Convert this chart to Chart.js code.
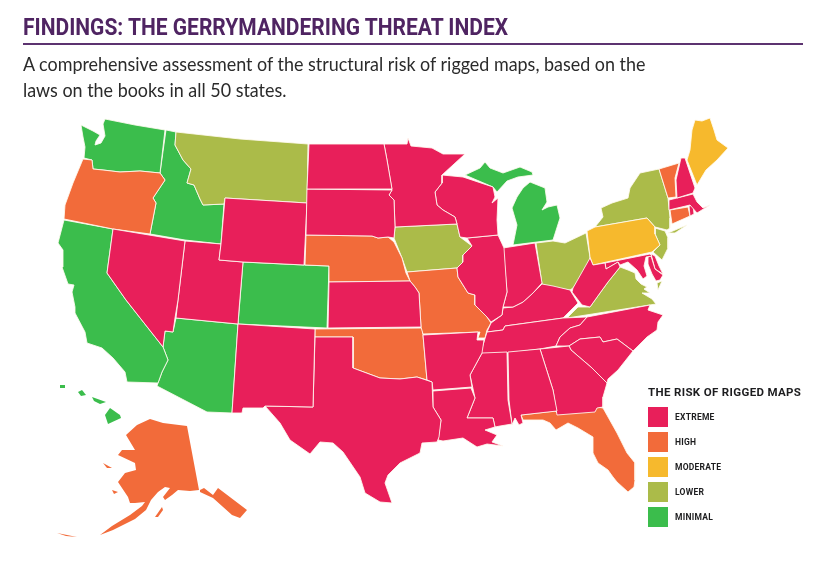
<!DOCTYPE html>
<html>
<head>
<meta charset="utf-8">
<title>The Gerrymandering Threat Index</title>
<script src="https://cdn.jsdelivr.net/npm/chart.js@4"></script>
<style>
  html, body { margin: 0; background: #fff; }
  #wrap { position: relative; width: 831px; height: 583px; overflow: hidden; }
  #map { position: absolute; left: 0; top: 0; }
  h1 { position: absolute; left: 23px; top: 13px; margin: 0; font: bold 24px "Liberation Sans Narrow", "Roboto", sans-serif; color: #4f2462; white-space: nowrap; transform-origin: left top; transform: scaleX(.875); }
  #rule { position: absolute; left: 23px; top: 43px; width: 780px; height: 2px; background: #5c3370; }
  #sub { position: absolute; left: 23px; top: 51px; font: 19px/26px "Lato", sans-serif; color: #2b2b2b; white-space: nowrap; transform-origin: left top; transform: scaleX(.943); }
  #legend-title { position: absolute; left: 648px; top: 385px; font: bold 11.5px "Roboto", sans-serif; letter-spacing: .35px; color: #1d1d1f; white-space: nowrap; }
  .key { position: absolute; left: 648px; width: 20px; height: 20px; }
  .key-label { position: absolute; left: 675px; font: bold 8.5px/20px "Roboto", sans-serif; letter-spacing: .25px; color: #1d1d1f; }
</style>
</head>
<body>
<div id="wrap">
  <canvas id="map" width="831" height="583"></canvas>
  <h1>FINDINGS: THE GERRYMANDERING THREAT INDEX</h1>
  <div id="rule"></div>
  <div id="sub">A comprehensive assessment of the structural risk of rigged maps, based on the<br>laws on the books in all 50 states.</div>
  <div id="legend-title">THE RISK OF RIGGED MAPS</div>
</div>
<script>
'use strict';

/* ---- Risk categories ---- */
const riskLabels = ['EXTREME', 'HIGH', 'MODERATE', 'LOWER', 'MINIMAL'];
const riskColors = ['#e81f5a', '#f26b3a', '#f6b92d', '#abbb49', '#3bbd4c'];
const extreme = ['ND', 'SD', 'WY', 'NV', 'UT', 'NM', 'TX', 'KS', 'MN', 'WI', 'IL', 'IN', 'AR', 'LA', 'MS', 'AL', 'GA', 'SC', 'NC', 'TN', 'KY', 'WV', 'MD', 'DE', 'NH', 'MA', 'RI'];
const high = ['OR', 'NE', 'MO', 'OK', 'FL', 'VT', 'CT', 'AK'];
const moderate = ['PA', 'ME'];
const lower = ['MT', 'IA', 'OH', 'NY', 'VA', 'NJ'];
const minimal = ['WA', 'ID', 'CA', 'AZ', 'CO', 'MI', 'HI'];

/* ---- State outlines ---- */
const WA = [[[105,119],[135,125],[165,130],[160,173],[140,171],[120,172],[103,170],[93,169],[92,160],[84,158],[85,147],[83,137],[81,125],[93,131],[100,135],[96,141],[95,145],[101,143],[105,136],[103,124]]];
const OR = [[[83,159],[92,160],[93,169],[103,170],[120,172],[140,171],[160,173],[165,180],[153,198],[156,203],[150,234],[113,229],[64,219],[65,205],[73,183]]];
const ID = [[[166,130],[176,132],[175,145],[183,160],[191,169],[187,183],[194,185],[200,199],[203,205],[224,204],[221,244],[185,240],[150,234],[156,203],[153,198],[165,180],[160,173]]];
const MT = [[[176,132],[240,139],[308,144],[307,203],[225,198],[224,204],[203,205],[200,199],[194,185],[187,183],[191,169],[183,160],[175,145]]];
const WY = [[[225,198],[307,203],[304,265],[243,262],[219,260],[221,244]]];
const NV = [[[113,229],[185,241],[178,300],[175,318],[173,332],[165,331],[163,347],[126,300],[107,273]]];
const CA = [[[64,220],[113,229],[107,273],[126,300],[163,347],[168,360],[162,372],[158,383],[127,382],[125,372],[113,358],[102,348],[87,343],[85,332],[75,313],[75,307],[72,292],[74,285],[68,284],[62,267],[63,250],[58,243]]];
const UT = [[[185,241],[221,244],[219,260],[243,262],[239,310],[238,324],[176,318],[178,300]]];
const AZ = [[[176,318],[238,324],[232,413],[207,412],[157,386],[158,383],[162,372],[168,360],[163,347],[165,331],[173,332]]];
const CO = [[[243,262],[304,265],[329,266],[327,328],[238,324]]];
const NM = [[[238,324],[315,329],[313,407],[265,406],[263,408],[243,408],[242,413],[232,413]]];
const TX = [[[315,337],[353,337],[353,368],[380,378],[400,379],[417,377],[432,382],[433,407],[441,420],[439,437],[437,442],[422,443],[420,453],[400,463],[388,475],[385,483],[392,503],[380,502],[365,493],[360,477],[343,452],[333,443],[320,442],[310,454],[290,440],[280,423],[265,406],[313,407]]];
const OK = [[[315,329],[422,328],[423,335],[427,380],[417,377],[400,379],[380,378],[353,368],[353,337],[315,337]]];
const KS = [[[329,282],[410,281],[415,287],[419,293],[421,327],[328,328]]];
const NE = [[[306,235],[372,236],[378,238],[388,237],[394,242],[402,258],[406,273],[410,281],[329,282],[329,266],[305,265]]];
const SD = [[[307,189],[392,190],[389,195],[394,200],[395,227],[394,238],[388,237],[378,238],[372,236],[306,235]]];
const ND = [[[309,144],[384,144],[387,160],[392,189],[307,189]]];
const MN = [[[384,144],[407,144],[408,138],[411,146],[432,148],[443,154],[465,154],[442,175],[442,183],[435,192],[437,205],[443,210],[455,217],[457,224],[395,227],[394,200],[389,195],[392,190],[387,160]]];
const IA = [[[395,227],[457,224],[460,237],[472,246],[463,255],[463,262],[457,268],[407,272],[402,258],[394,238]]];
const MO = [[[407,272],[457,268],[458,277],[468,293],[475,295],[475,305],[487,317],[491,323],[487,330],[485,338],[478,338],[480,332],[423,334],[421,327],[419,293],[415,287],[410,281]]];
const AR = [[[423,335],[478,332],[477,340],[484,340],[482,353],[470,375],[472,387],[433,390],[432,382],[427,380]]];
const LA = [[[433,391],[471,388],[475,398],[467,418],[493,418],[495,427],[485,430],[497,435],[492,442],[503,446],[487,444],[477,447],[463,438],[443,441],[438,440],[441,420],[433,407]]];
const MS = [[[482,353],[507,352],[508,400],[512,424],[500,426],[495,427],[493,418],[467,418],[475,398],[470,375]]];
const AL = [[[508,352],[540,349],[553,390],[557,411],[521,415],[523,423],[519,425],[515,418],[512,425],[509,400]]];
const GA = [[[540,349],[569,346],[571,350],[592,368],[607,383],[603,397],[603,407],[597,408],[595,412],[557,415],[553,390]]];
const FL = [[[521,415],[555,411],[558,414],[595,411],[597,407],[603,408],[617,433],[627,453],[635,463],[635,480],[634,487],[628,492],[617,482],[613,477],[608,470],[598,463],[593,453],[593,437],[578,428],[568,423],[556,430],[550,423],[543,420],[523,420]]];
const SC = [[[569,346],[580,339],[600,337],[603,342],[617,339],[633,351],[618,370],[608,379],[607,383],[592,368],[571,350]]];
const NC = [[[587,317],[650,305],[648,310],[657,313],[663,315],[658,322],[657,330],[647,337],[633,351],[617,339],[603,342],[600,337],[580,339],[569,346],[556,346],[560,337],[570,328],[580,325]]];
const TN = [[[480,355],[487,332],[503,330],[505,326],[563,318],[587,317],[580,325],[570,328],[560,337],[556,346],[540,349],[507,353]]];
const KY = [[[491,323],[502,315],[503,308],[513,307],[523,302],[533,293],[542,284],[553,286],[570,290],[578,303],[563,318],[505,326],[503,330],[487,332]]];
const IL = [[[467,238],[498,235],[504,248],[507,292],[503,307],[502,315],[491,322],[487,317],[475,305],[475,295],[468,293],[458,277],[457,268],[463,262],[463,255],[472,246]]];
const WI = [[[442,175],[463,177],[493,187],[495,197],[492,203],[498,198],[497,220],[498,235],[467,238],[460,237],[457,224],[455,217],[443,210],[437,205],[435,192],[442,183]]];
const MI = [
  [[465,175],[480,168],[485,162],[490,168],[503,173],[520,167],[532,172],[533,175],[518,177],[507,181],[497,192],[493,187]],
  [[513,245],[553,240],[560,218],[557,205],[548,207],[542,210],[547,202],[545,188],[530,182],[523,188],[517,197],[512,208],[517,225]]
];
const IN = [[[503,248],[535,243],[542,283],[533,293],[523,302],[513,307],[503,307],[507,292]]];
const OH = [[[536,243],[553,241],[565,243],[586,233],[590,257],[588,267],[573,288],[570,290],[550,287],[542,284]]];
const WV = [[[590,258],[593,265],[605,263],[606,269],[618,262],[620,267],[608,282],[600,293],[590,307],[582,305],[572,292],[573,288]]];
const VA = [
  [[567,318],[578,307],[590,307],[600,293],[608,282],[620,267],[628,270],[635,273],[636,279],[641,284],[647,287],[644,289],[650,293],[642,293],[652,299],[656,304]],
  [[662,281],[658,290],[657,283]]
];
const MD = [
  [[605,263],[650,254],[652,256],[646,257],[644,266],[647,276],[643,279],[637,270],[628,262],[620,265],[618,262],[606,269]],
  [[648,257],[651,256],[655,269],[663,275],[660,280],[656,281],[652,274],[648,264]]
];
const DE = [[[651,254],[655,256],[659,266],[663,274],[655,269]]];
const PA = [[[587,231],[595,227],[647,218],[655,227],[655,234],[660,245],[652,252],[593,265],[590,257]]];
const NY = [
  [[595,227],[603,217],[601,208],[612,203],[628,198],[630,188],[640,173],[659,169],[668,198],[670,218],[670,228],[667,230],[655,227],[647,218]],
  [[668,233],[687,225],[675,233]]
];
const NJ = [[[655,228],[665,231],[668,238],[668,248],[662,260],[653,252],[660,245],[655,234]]];
const VT = [[[659,169],[679,163],[675,178],[676,197],[668,198]]];
const NH = [[[681,158],[685,158],[695,188],[693,193],[677,198],[676,180]]];
const ME = [[[695,120],[702,121],[710,118],[714,130],[717,140],[728,148],[717,160],[706,170],[697,185],[687,160],[690,150],[692,130]]];
const MA = [[[669,200],[693,194],[697,202],[703,208],[710,205],[697,213],[690,205],[669,210]]];
const RI = [[[689,206],[693,205],[694,214],[690,216]]];
const CT = [[[670,210],[688,207],[690,216],[672,224]]];
const HI = [
  [[110,408],[120,415],[121,418],[108,424],[105,415]],
  [[92,397],[106,402],[100,404],[94,401]],
  [[78,392],[82,390],[86,395],[81,396]],
  [[60,385],[65,385],[65,388],[61,388]]
];
const AK = [
  [[150,419],[163,423],[187,426],[199,490],[190,491],[178,490],[172,495],[165,500],[163,497],[170,488],[165,487],[158,492],[151,500],[146,510],[135,519],[113,530],[100,535],[112,526],[130,515],[142,506],[145,502],[135,503],[130,503],[128,497],[118,482],[125,473],[136,470],[135,463],[118,455],[122,450],[135,450],[126,435],[137,425]],
  [[200,490],[204,488],[213,495],[218,488],[247,510],[240,518],[232,515],[213,498],[200,492]],
  [[155,517],[162,507],[163,510],[158,517]],
  [[103,463],[112,468],[107,468]],
  [[112,490],[118,492],[114,494]],
  [[57,533],[77,537],[66,536]]
];

const stateShapes = { WA, OR, ID, MT, WY, NV, CA, UT, AZ, CO, NM, TX, OK, KS, NE, SD, ND, MN, IA, MO, AR, LA, MS, AL, GA, FL, SC, NC, TN, KY, IL, WI, MI, IN, OH, WV, VA, MD, DE, PA, NY, NJ, VT, NH, ME, MA, RI, CT, HI, AK };

/* ---- One filled line dataset per outline ring ---- */
function buildDatasets() {
  const datasets = [];
  [extreme, high, moderate, lower, minimal].forEach((group, level) => {
    group.forEach(name => {
      stateShapes[name].forEach(ring => {
        const closed = ring.concat([ring[0]]);
        datasets.push({
          label: name,
          data: closed.map(p => ({ x: p[0], y: p[1] })),
          showLine: true,
          fill: 'shape',
          tension: 0,
          pointRadius: 0,
          borderWidth: name === 'AK' || name === 'HI' ? 0 : 1,
          borderColor: 'rgba(255,250,240,0.85)',
          backgroundColor: riskColors[level],
        });
      });
    });
  });
  return datasets;
}

/* ---- Legend ---- */
function buildLegend() {
  const wrap = document.getElementById('wrap');
  riskLabels.forEach((label, i) => {
    const key = document.createElement('div');
    key.className = 'key';
    key.style.top = (407 + i * 25) + 'px';
    key.style.background = riskColors[i];
    wrap.appendChild(key);
    const text = document.createElement('div');
    text.className = 'key-label';
    text.style.top = (407 + i * 25) + 'px';
    text.textContent = label;
    wrap.appendChild(text);
  });
}

buildLegend();

new Chart(document.getElementById('map'), {
  type: 'scatter',
  data: { datasets: buildDatasets() },
  options: {
    responsive: false,
    animation: false,
    layout: { padding: 0 },
    plugins: { legend: { display: false }, tooltip: { enabled: false }, title: { display: false } },
    scales: {
      x: { type: 'linear', min: 0, max: 831, display: false },
      y: { type: 'linear', min: 0, max: 583, reverse: true, display: false }
    }
  }
});
</script>
</body>
</html>
